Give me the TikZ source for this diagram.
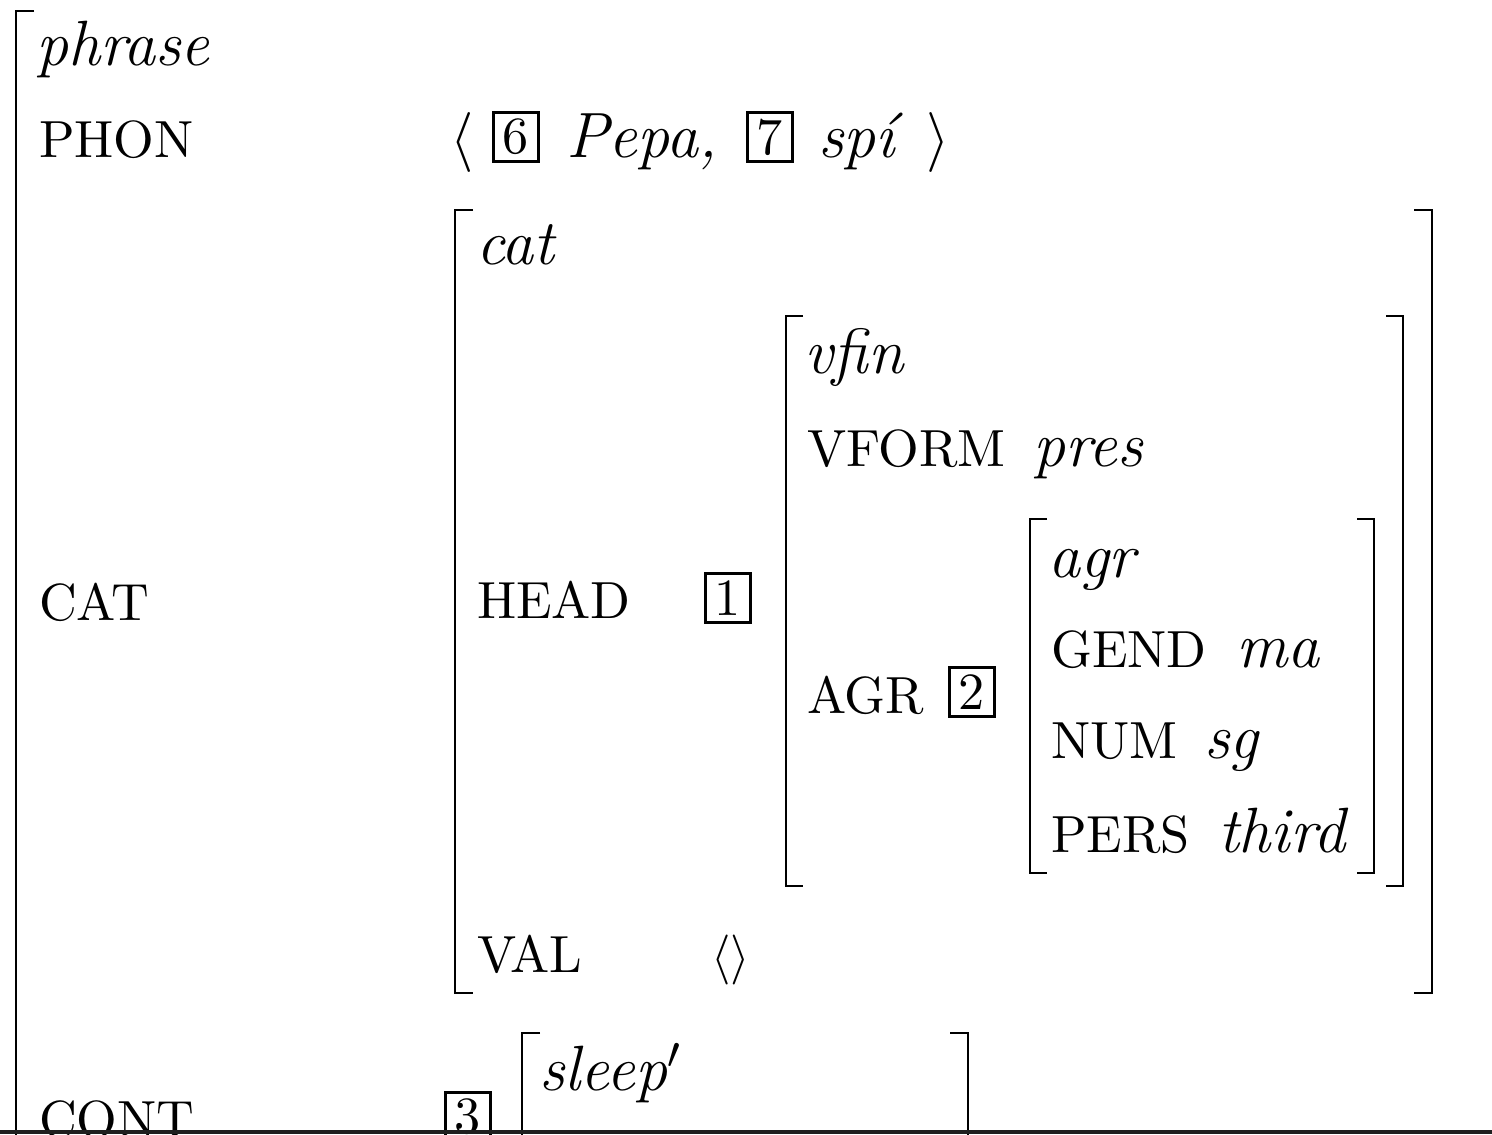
\documentclass[tikz,border=0pt]{standalone}

\newcommand{\featsize}{\fontsize{10.45}{12}\selectfont}
\newcommand{\typesize}{\fontsize{12.8}{15}\selectfont\itshape}

\begin{document}
\begin{tikzpicture}[x=0.2pt, y=-0.2pt,
  feat/.style={anchor=base west, inner sep=0pt, xshift=-0.4pt, font=\featsize},
  type/.style={anchor=base west, inner sep=0pt, xshift=-1pt, font=\typesize},
  tagbox/.style={draw, line width=0.45pt, inner sep=0pt, minimum width=9pt, minimum height=9.8pt, font=\featsize},
  brack/.style={line width=0.5pt}]
\useasboundingbox (0,0) rectangle (1492,1134);

\begin{scope}
\clip (0,0) rectangle (1492,1134);

% outer matrix
\draw[brack] (34,11) -- (16,11) -- (16,1140);
\node[type] (phrase) at (40,65) {phrase};
\node[feat] (phon) at (40,157) {PHON};
\node[type] (langle) at (454,157) {$\langle$};
\node[tagbox] (tag6) at (516,137) {6};
\node[type] (pepa) at (570,157) {Pepa,};
\node[tagbox] (tag7) at (770,137) {7};
\node[type] (spi) at (822,157) {spí};
\node[type] (rangle) at (930,157) {$\rangle$};
\node[feat] (cat) at (40,620) {CAT};
\node[feat] (cont) at (40,1137) {CONT};

% cat
\draw[brack] (473,210) -- (455,210) -- (455,993) -- (473,993);
\draw[brack] (1414,210) -- (1432,210) -- (1432,993) -- (1414,993);
\node[type] (cattype) at (480,264) {cat};
\node[feat] (head) at (478,618) {HEAD};
\node[tagbox] (tag1) at (728,598) {1};
\node[feat] (val) at (478,972) {VAL};
\node[feat] (vallist) at (712,972) {$\langle\rangle$};

% vfin
\draw[brack] (803,316) -- (786,316) -- (786,886) -- (803,886);
\draw[brack] (1386,316) -- (1403,316) -- (1403,886) -- (1386,886);
\node[type] (vfin) at (808,373) {vfin};
\node[feat] (vform) at (808,466) {VFORM};
\node[type] (pres) at (1037,466) {pres};
\node[feat] (agrf) at (808,713) {AGR};
\node[tagbox] (tag2) at (972,692) {2};

% agr
\draw[brack] (1047,519) -- (1030,519) -- (1030,873) -- (1047,873);
\draw[brack] (1357,519) -- (1374,519) -- (1374,873) -- (1357,873);
\node[type] (agr) at (1052,577) {agr};
\node[feat] (gend) at (1052,667) {GEND};
\node[type] (ma) at (1240,667) {ma};
\node[feat] (num) at (1052,758) {NUM};
\node[type] (sg) at (1208,758) {sg};
\node[feat] (pers) at (1052,852) {PERS};
\node[type] (third) at (1222,852) {third};

% cont
\node[tagbox] (tag3) at (468,1117) {3};
\draw[brack] (540,1033) -- (522,1033) -- (522,1140);
\draw[brack] (950,1033) -- (968,1033) -- (968,1140);
\node[type] (sleep) at (543,1090) {sleep$'$};
\end{scope}

\fill[black!88] (0,1130) rectangle (1492,1134);
\end{tikzpicture}
\end{document}
